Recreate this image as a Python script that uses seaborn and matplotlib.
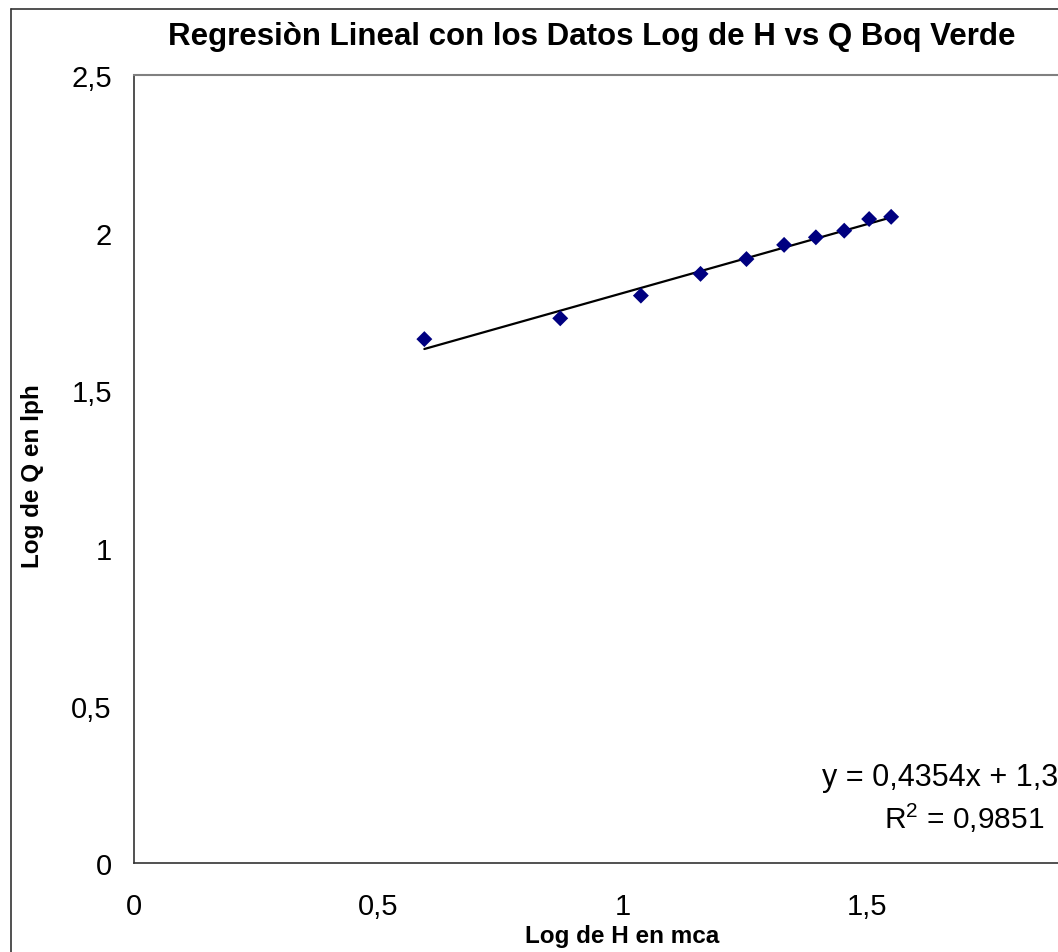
import numpy as np
import pandas as pd
import matplotlib
matplotlib.use("Agg")
import matplotlib.pyplot as plt
from matplotlib.lines import Line2D
import seaborn as sns

# ---- data ----
log_h = [0.594, 0.872, 1.037, 1.159, 1.253, 1.330, 1.395, 1.453, 1.504, 1.549]
log_q = [1.663, 1.729, 1.801, 1.870, 1.917, 1.962, 1.986, 2.007, 2.044, 2.051]
x_ticks = [0, 0.5, 1, 1.5]
x_tick_labels = ["0", "0,5", "1", "1,5"]
y_ticks = [0, 0.5, 1, 1.5, 2, 2.5]
y_tick_labels = ["0", "0,5", "1", "1,5", "2", "2,5"]
title = "Regresiòn Lineal con los Datos Log de H vs Q Boq Verde"
x_label = "Log de H en mca"
y_label = "Log de Q en lph"
eq_text = "y = 0,4354x + 1,3"
r2_text = r"R$^2$ = 0,9851"

df = pd.DataFrame({"logH": log_h, "logQ": log_q})

sns.set_style("white")
plt.rcParams["font.family"] = ["Liberation Sans", "DejaVu Sans"]
plt.rcParams["mathtext.fontset"] = "custom"
plt.rcParams["mathtext.rm"] = "Liberation Sans"
plt.rcParams["mathtext.it"] = "Liberation Sans"
plt.rcParams["text.color"] = "black"

W, H = 1058, 953
fig = plt.figure(figsize=(W / 100, H / 100), dpi=100)
fig.patch.set_facecolor("white")

# axes: left 134px, top 76px, bottom 864px, x range 0..2 extends beyond the right edge
left_px, top_px, bottom_px = 134, 76.3, 864.3
unit_px = 488.8
ax = fig.add_axes([left_px / W, (H - bottom_px) / H, 2 * unit_px / W, (bottom_px - top_px) / H])
ax.set_facecolor("white")

sns.regplot(data=df, x="logH", y="logQ", ax=ax, ci=None, scatter=False, truncate=True,
            line_kws={"color": "black", "linewidth": 1.6})
sns.scatterplot(data=df, x="logH", y="logQ", ax=ax, marker="D", s=66,
                color="#000080", edgecolor="none", zorder=3)

ax.set_xlim(0, 2)
ax.set_ylim(0, 2.5)
ax.set_xticks(x_ticks)
ax.set_xticklabels(x_tick_labels)
ax.set_yticks(y_ticks)
ax.set_yticklabels(y_tick_labels)
ax.set_xlabel("")
ax.set_ylabel("")
ax.tick_params(axis="both", direction="out", length=8, width=1, color="#333333",
               labelsize=21, labelcolor="black")
ax.tick_params(axis="x", pad=13)
ax.tick_params(axis="y", pad=8)
for side in ["left", "bottom"]:
    ax.spines[side].set_color("#333333")
    ax.spines[side].set_linewidth(1.2)
ax.spines["top"].set_color("#808080")
ax.spines["top"].set_linewidth(1.5)
ax.spines["right"].set_color("#808080")
ax.grid(False)

# chart frame (left and top edges visible)
fig.add_artist(Line2D([11 / W, 11 / W], [0, 1 - 10 / H], color="#333333", linewidth=1.2,
                      transform=fig.transFigure))
fig.add_artist(Line2D([11 / W, 1], [1 - 10 / H, 1 - 10 / H], color="#333333", linewidth=1.2,
                      transform=fig.transFigure))

fig.text(591.7 / W, 1 - 45 / H, title, ha="center", va="baseline",
         fontsize=22.5, fontweight="bold", color="black")
fig.text(622 / W, 1 - 943.3 / H, x_label, ha="center", va="baseline",
         fontsize=17.5, fontweight="bold", color="black")
fig.text(33 / W, 1 - 476 / H, y_label, ha="center", va="center", rotation=90,
         fontsize=17.5, fontweight="bold", color="black")

fig.text(821.7 / W, 1 - 785.7 / H, eq_text, ha="left", va="baseline", fontsize=22, color="black")
fig.text(964 / W, 1 - 829.3 / H, r2_text, ha="center", va="baseline", fontsize=21.5, color="black")

fig.savefig("out.png", dpi=100)
